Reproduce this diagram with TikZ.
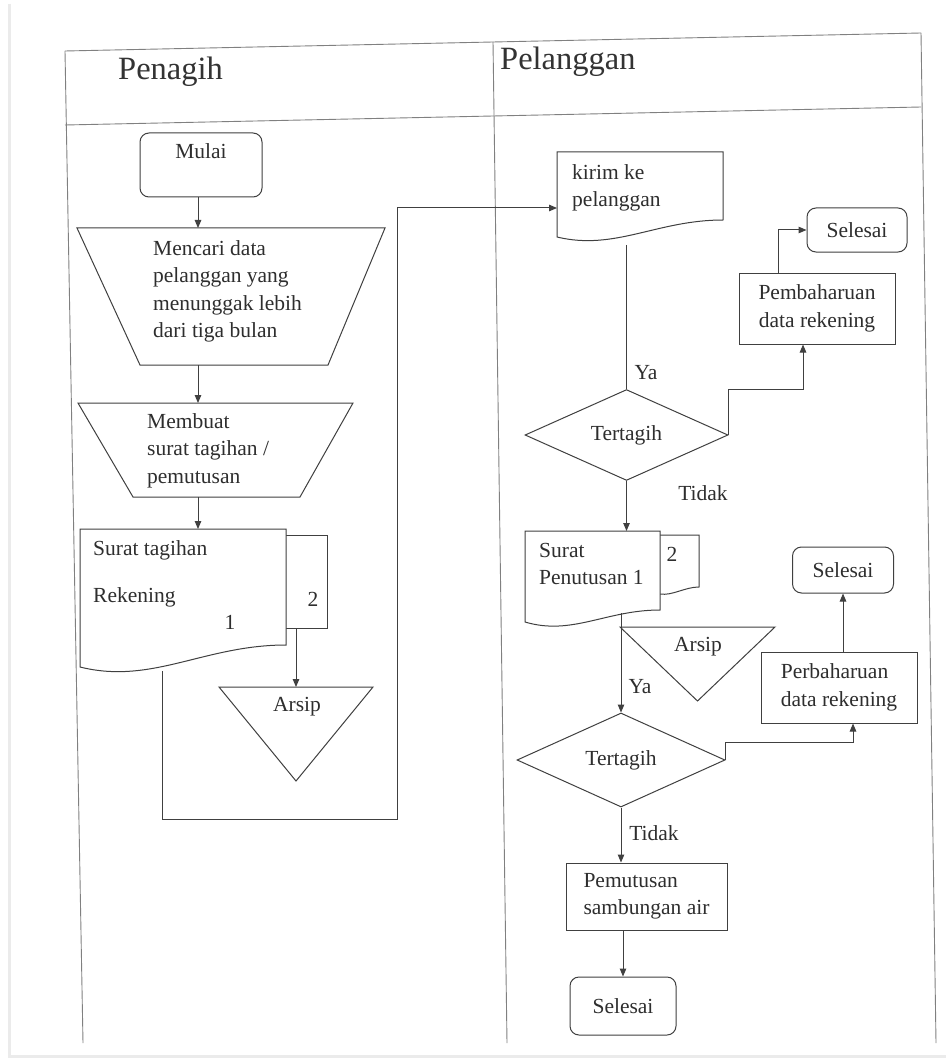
\documentclass[tikz,border=0pt]{standalone}
\usepackage{fontspec}
\setmainfont{Liberation Serif}
\usetikzlibrary{arrows.meta,shapes.geometric}
\newcommand\fs{\fontsize{21.5}{27.5}\selectfont}
\newcommand\hfs{\fontsize{32.5}{38}\selectfont}
\begin{document}
\begin{tikzpicture}[x=1pt,y=-1pt,
 ln/.style={draw=black!75,line width=1pt},
 arr/.style={ln,-{Triangle[length=8pt,width=6.5pt]}},
 txt/.style={font=\fs,text=black!82,inner sep=0pt,align=left},
 hdr/.style={font=\hfs,text=black!80,inner sep=0pt},
 frm/.style={draw=black!50,line width=0.9pt},
 anchorbox/.style={inner sep=0pt,outer sep=0pt,draw=none},
 rbox/.style={ln,rounded corners=9pt,inner sep=0pt,font=\fs,text=black!82,align=center},
 pbox/.style={ln,inner sep=0pt,font=\fs,text=black!82,align=left},
 dec/.style={ln,shape=diamond,inner sep=0pt,font=\fs,text=black!82},
]
\useasboundingbox (0,0) rectangle (949,1059);
\fill[white] (0,0) rectangle (949,1059);
\draw[black!8,line width=3pt] (9,4) -- (9,1056) -- (946,1056);

% frame
\draw[frm] (65,51) -- (921,33);
\draw[frm] (65,125) -- (921,107);
\draw[frm] (65,51) -- (83,1043);
\draw[frm] (493,42) -- (507,1043);
\draw[frm] (921,33) -- (936,1043);

\node[hdr,anchor=base west] (hpen) at (118,80) {Penagih};
\node[hdr,anchor=base west] (hpel) at (500,70) {Pelanggan};

% ---------- Penagih lane ----------
\node[rbox,minimum width=122pt,minimum height=64pt] (mulai) at (201,165) {Mulai\\~};

\node[anchorbox,minimum width=308pt,minimum height=137pt] (t1) at (231,296.5) {};
\draw[ln] (t1.north west) -- (t1.north east) -- ([xshift=-57pt]t1.south east) -- ([xshift=63pt]t1.south west) -- cycle;
\node[txt,anchor=west] (t1txt) at (153,291.5) {Mencari data\\pelanggan yang\\menunggak lebih\\dari tiga bulan};

\node[anchorbox,minimum width=275pt,minimum height=94pt] (t2) at (215.5,450) {};
\draw[ln] (t2.north west) -- (t2.north east) -- ([xshift=-53pt]t2.south east) -- ([xshift=55pt]t2.south west) -- cycle;
\node[txt,anchor=west] (t2txt) at (147,450.5) {Membuat\\surat tagihan /\\pemutusan};

\node[anchorbox,minimum width=41pt,minimum height=93pt] (copy1) at (306.5,581.5) {};
\draw[ln] (copy1.south west) -- (copy1.south east) -- (copy1.north east) -- (copy1.north west);
\node[txt] (c1n) at (313,599) {2};

\node[anchorbox,minimum width=206pt,minimum height=138pt] (doc1) at (183,598) {};
\draw[ln,fill=white] (doc1.north west) -- (doc1.north east) -- ([yshift=22pt]doc1.south east) .. controls +(-82,0) and +(72,18) .. (doc1.south west) -- cycle;
\node[txt,anchor=west] (d1t1) at (93,550) {Surat tagihan};
\node[txt,anchor=west] (d1t2) at (93,597) {Rekening};
\node[txt] (d1t3) at (230,622) {1};

\node[anchorbox,minimum width=154pt,minimum height=94pt] (arsip1) at (296,734) {};
\draw[ln] (arsip1.north west) -- (arsip1.north east) -- (arsip1.south) -- cycle;
\node[txt] (arsip1t) at (297,707) {Arsip};

\coordinate (axL) at (198,0);
\draw[arr] (mulai.south -| axL) -- (t1.north -| axL);
\draw[arr] (t1.south -| axL) -- (t2.north -| axL);
\draw[arr] (t2.south -| axL) -- (doc1.north -| axL);
\draw[arr] (arsip1.north |- copy1.south) -- (arsip1.north);

% ---------- Pelanggan lane ----------
\node[anchorbox,minimum width=166pt,minimum height=85pt] (kirim) at (640,194.5) {};
\draw[ln] (kirim.north west) -- (kirim.north east) -- ([yshift=17pt]kirim.south east) .. controls +(-66,0) and +(58,14) .. (kirim.south west) -- cycle;
\node[txt,anchor=west] (kirimt) at (572,188) {kirim ke\\pelanggan};

\coordinate (d1b) at (162,671);
\coordinate (lp) at (397,819);
\draw[arr] (d1b) |- (lp) |- ([yshift=-13.5pt]kirim.west);

\node[dec,minimum width=203pt,minimum height=86pt] (dia1) at (626.5,435) {Tertagih};
\coordinate (k1) at (dia1.north |- kirim.south);
\draw[ln] ([yshift=-8pt]k1) -- (dia1.north);
\node[txt] (ya1) at (646,373) {Ya};
\node[txt] (td1) at (703,493) {Tidak};

\node[pbox,align=center,minimum width=156pt,minimum height=71pt] (pemb) at (817,308.5) {Pembaharuan\\data rekening};
\node[rbox,minimum width=100pt,minimum height=44pt] (sel1) at (857,230) {Selesai};
\coordinate (j1) at (0,389);
\draw[arr] (dia1.east) -- (dia1.east |- j1) -| ([xshift=-14pt]pemb.south);
\draw[arr] ([xshift=-39pt]pemb.north) |- (sel1.west);

\node[anchorbox,minimum width=39pt,minimum height=59pt] (copy2) at (679.5,564.5) {};
\draw[ln] (copy2.north west) -- (copy2.north east) -- ([yshift=7pt]copy2.south east) .. controls +(-14,0) and +(12,2) .. (copy2.south west);
\node[txt] (c2n) at (672,554) {2};

\node[anchorbox,minimum width=135pt,minimum height=91pt] (doc2) at (592.5,576.5) {};
\draw[ln,fill=white] (doc2.north west) -- (doc2.north east) -- ([yshift=12pt]doc2.south east) .. controls +(-54,0) and +(47,14) .. (doc2.south west) -- cycle;
\node[txt,anchor=west] (doc2t) at (539,564) {Surat\\Penutusan 1};

\node[anchorbox,minimum width=155pt,minimum height=74pt] (arsip2) at (697.5,664) {};
\draw[ln] (arsip2.north west) -- (arsip2.north east) -- (arsip2.south) -- cycle;
\node[txt] (arsip2t) at (698,647) {Arsip};

\node[dec,minimum width=208pt,minimum height=94pt] (dia2) at (621,760) {Tertagih};
\coordinate (d2b) at (621,613);
\draw[arr] (dia1.south) -- (dia1.south |- doc2.north);
\draw[arr] (d2b) -- (dia2.north);
\node[txt] (ya2) at (640,687) {Ya};
\node[txt] (td2) at (654,833) {Tidak};

\node[pbox,minimum width=156pt,minimum height=71pt] (perb) at (839,687.5) {Perbaharuan\\data rekening};
\node[rbox,minimum width=101pt,minimum height=46pt] (sel2) at (843,570) {Selesai};
\coordinate (j2) at (0,742);
\draw[arr] (dia2.east) -- (dia2.east |- j2) -| ([xshift=14pt]perb.south);
\draw[arr] (perb.north -| sel2.south) -- (sel2.south);

\node[pbox,minimum width=161pt,minimum height=67pt] (pem) at (646.5,896.5) {Pemutusan\\sambungan air};
\node[rbox,minimum width=106pt,minimum height=58pt] (sel3) at (623,1006) {Selesai};
\draw[arr] (dia2.south) -- (dia2.south |- pem.north);
\draw[arr] (sel3.north |- pem.south) -- (sel3.north);
\end{tikzpicture}
\end{document}
